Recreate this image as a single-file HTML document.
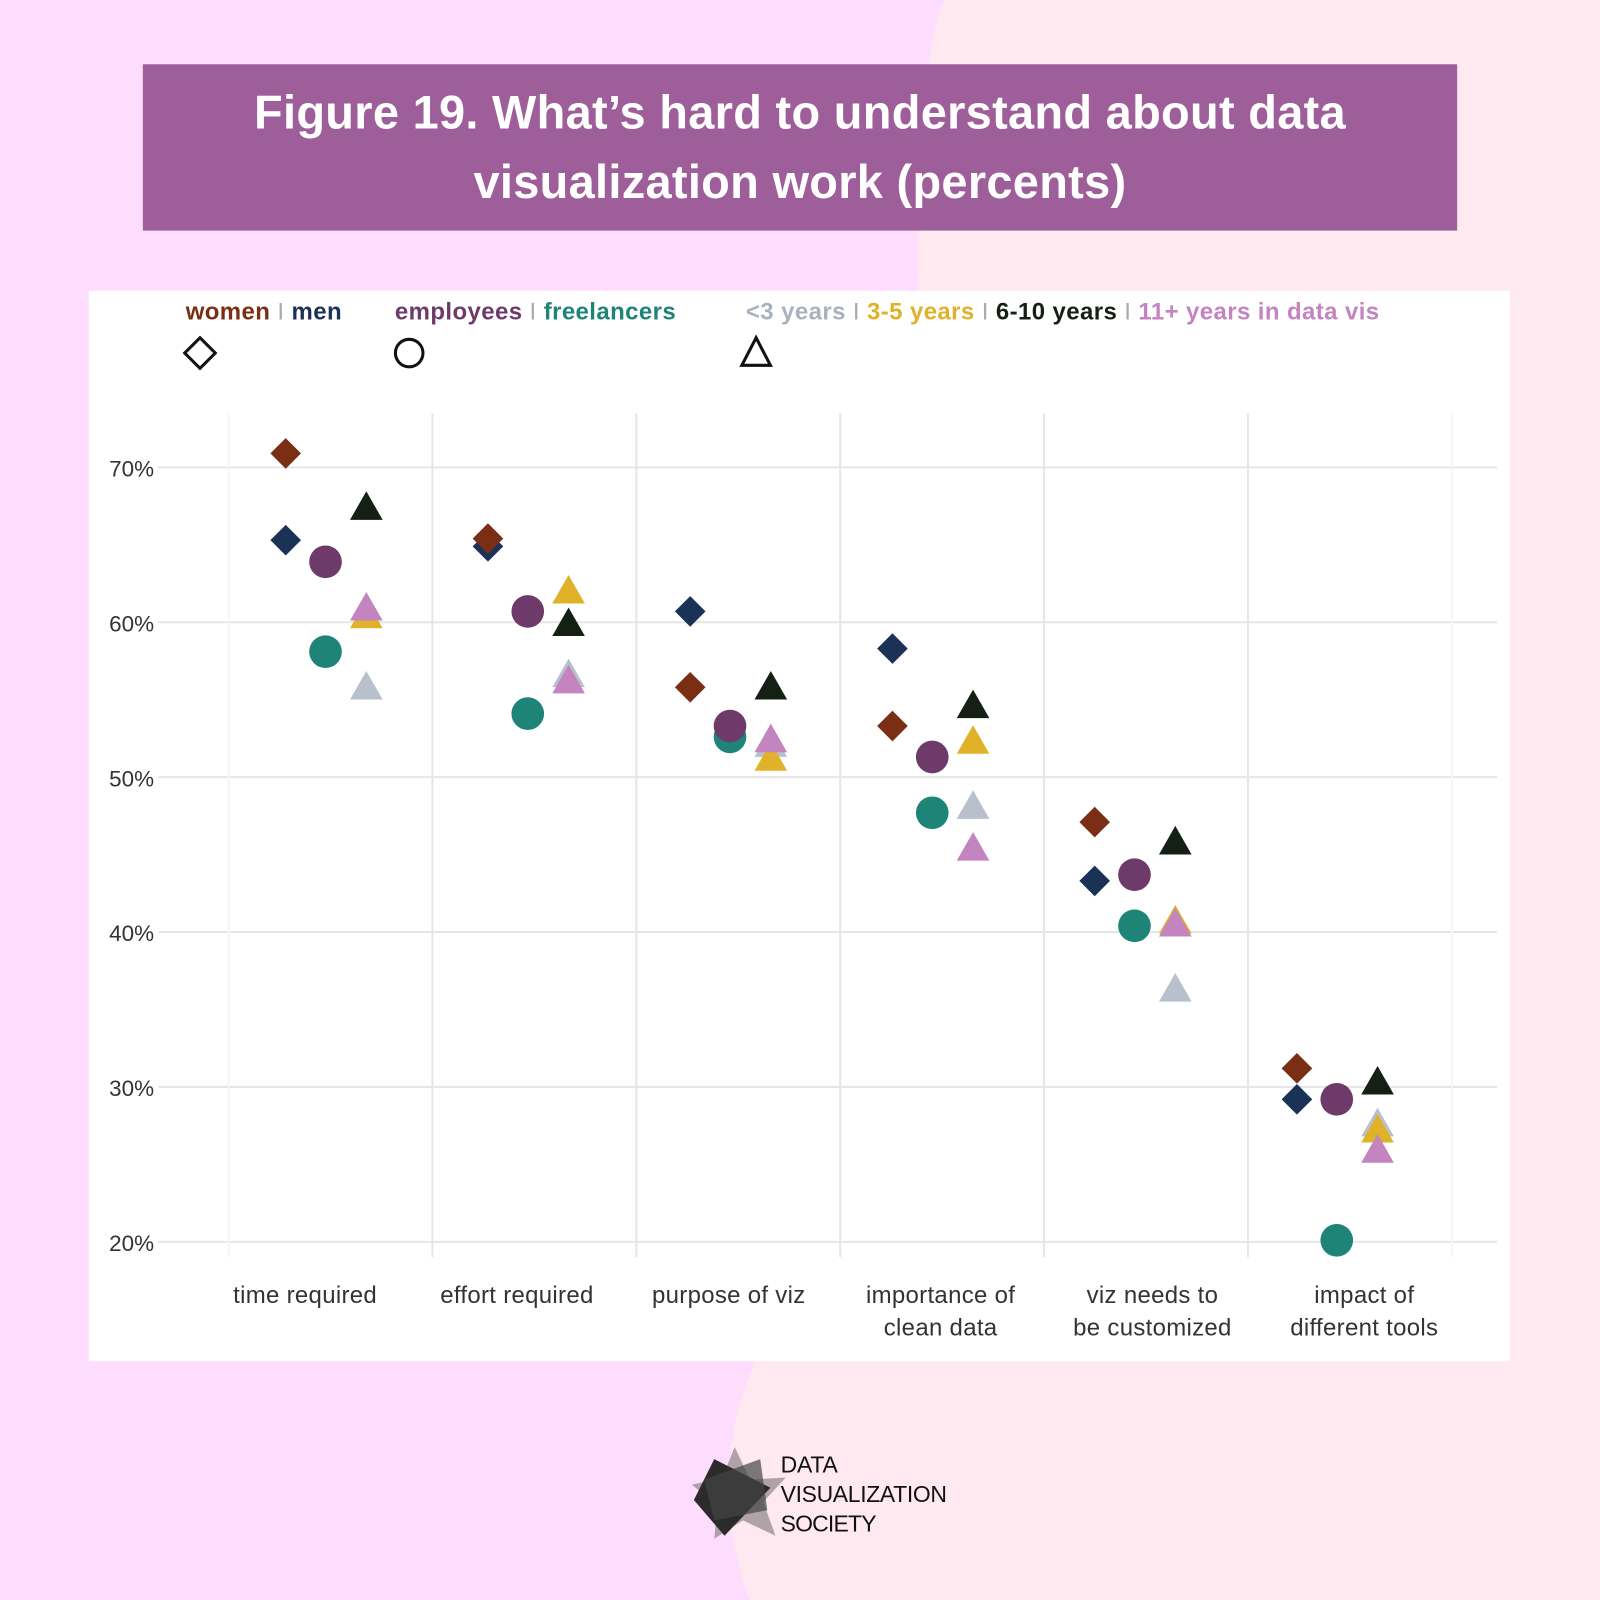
<!DOCTYPE html>
<html><head><meta charset="utf-8"><style>
html,body{margin:0;padding:0;width:1600px;height:1600px;overflow:hidden;}
svg{display:block;font-family:"Liberation Sans",sans-serif;}
</style></head><body>
<svg id="chart" width="1600" height="1600" viewBox="0 0 1568 1568" xmlns="http://www.w3.org/2000/svg">
<rect x="0" y="0" width="1568" height="1568" fill="#fddcfd"/>
<path d="M925 0 Q895 80 900 290 L740 1334 Q690 1450 735 1568 L1568 1568 L1568 0 Z" fill="#fde9ef"/>
<rect x="140" y="63" width="1288" height="163" fill="#9e5e9a"/>
<text x="784" y="126" text-anchor="middle" fill="#fff" font-size="46" font-weight="bold" letter-spacing="0.3">Figure 19. What’s hard to understand about data</text>
<text x="784" y="194" text-anchor="middle" fill="#fff" font-size="46" font-weight="bold" letter-spacing="0.3">visualization work (percents)</text>
<rect x="87" y="285" width="1393" height="1049" fill="#fff"/>
<g font-size="23.5" font-weight="bold" letter-spacing="0.4">
<text x="182" y="313"><tspan fill="#7a2e14">women</tspan><tspan fill="#aaa" font-weight="normal"> I </tspan><tspan fill="#1b3257">men</tspan></text>
<text x="387" y="313"><tspan fill="#6e3a6a">employees</tspan><tspan fill="#aaa" font-weight="normal"> I </tspan><tspan fill="#1f8478">freelancers</tspan></text>
<text x="731" y="313"><tspan fill="#aab2be">&lt;3 years</tspan><tspan fill="#aaa" font-weight="normal"> I </tspan><tspan fill="#e0b22a">3-5 years</tspan><tspan fill="#aaa" font-weight="normal"> I </tspan><tspan fill="#152015">6-10 years</tspan><tspan fill="#aaa" font-weight="normal"> I </tspan><tspan fill="#c384c0">11+ years in data vis</tspan></text>
<path d="M196 331 L211 346 L196 361 L181 346 Z" fill="none" stroke="#111" stroke-width="3"/>
<circle cx="401" cy="346" r="13.5" fill="none" stroke="#111" stroke-width="3"/>
<path d="M741 331 L755 358 L727 358 Z" fill="none" stroke="#111" stroke-width="3"/>
</g>
<g id="grid"></g>
<g id="marks"></g>
<g>
<path d="M720 1418 L735 1450 L770 1448 L748 1472 L760 1505 L728 1490 L700 1508 L703 1475 L678 1455 L708 1448 Z" fill="#9b9197" opacity="0.8"/>
<path d="M700 1430 L755 1458 L710 1505 L680 1470 Z" fill="#2b2b2b"/>
<path d="M690 1450 L745 1430 L752 1480 L700 1490 Z" fill="#444" opacity="0.7"/>
<text x="765" y="1443" font-size="22.5" fill="#111" textLength="56">DATA</text>
<text x="765" y="1472" font-size="22.5" fill="#111" textLength="163">VISUALIZATION</text>
<text x="765" y="1501" font-size="22.5" fill="#111" textLength="94">SOCIETY</text>
</g>
</svg>
<script>
const categories = ["time required","effort required","purpose of viz","importance of|clean data","viz needs to|be customized","impact of|different tools"];
const yTicks = [20,30,40,50,60,70];
const women = [70.9,65.4,55.8,53.3,47.1,31.2];
const men = [65.3,64.9,60.7,58.3,43.3,29.2];
const employees = [63.9,60.7,53.3,51.3,43.7,29.2];
const freelancers = [58.1,54.1,52.6,47.7,40.4,20.1];
const yrsLt3 = [55.8,56.6,52.1,48.1,36.3,27.6];
const yrs3to5 = [60.4,62.0,51.2,52.3,40.7,27.2];
const yrs6to10 = [67.4,59.9,55.8,54.6,45.8,30.3];
const yrs11plus = [60.9,56.2,52.4,45.4,40.5,25.9];

const NS = "http://www.w3.org/2000/svg";
const y = v => 458 + (70 - v) * 15.18;
const xCat = i => 280 + i * 198.2;
const xLabel = i => 299 + i * 207.6;
const grid = document.getElementById('grid');
const marks = document.getElementById('marks');
function mk(tag, attrs, parent){const e=document.createElementNS(NS,tag);for(const k in attrs)e.setAttribute(k,attrs[k]);parent.appendChild(e);return e;}

yTicks.forEach(t=>{
  const l=mk('line',{x1:155,x2:1467,y1:y(t),y2:y(t),stroke:'#e6e6e6','stroke-width':2},grid);
  
  
  const tx=mk('text',{x:107,y:y(t)+9,'font-size':22,fill:'#333'},grid);
  tx.textContent=t+'%';
  
  
});
for(let i=0;i<=categories.length;i++){
  const gx=224+i*199.8;
  const l=mk('line',{x1:gx,x2:gx,y1:405,y2:1232,stroke:i==0||i==categories.length?'#f4f4f4':'#e6e6e6','stroke-width':2},grid);
  
  
}
categories.forEach((c,i)=>{
  c.split('|').forEach((line,j)=>{
    const tx=mk('text',{x:xLabel(i),y:1277+j*32,'font-size':23.5,fill:'#333','text-anchor':'middle','letter-spacing':0.3},grid);
    tx.textContent=line;
    
    
  });
});
function diamond(arr,color,name){arr.forEach((v,i)=>{const cx=xCat(i),cy=y(v),r=15;
  const p=mk('path',{d:`M${cx} ${cy-r} L${cx+r} ${cy} L${cx} ${cy+r} L${cx-r} ${cy} Z`,fill:color},marks);
  
  });}
function circ(arr,color,name){arr.forEach((v,i)=>{
  const p=mk('circle',{cx:xCat(i)+39,cy:y(v),r:16,fill:color},marks);
  
  });}
function tri(arr,color,name){arr.forEach((v,i)=>{const cx=xCat(i)+79,cy=y(v);
  const p=mk('path',{d:`M${cx} ${cy-16} L${cx+16} ${cy+12} L${cx-16} ${cy+12} Z`,fill:color},marks);
  
  });}
diamond(men,'#1b3257','point-men');
diamond(women,'#7a2e14','point-women');
circ(freelancers,'#1f8478','point-freelancers');
circ(employees,'#6e3a6a','point-employees');
tri(yrsLt3,'#b8c0cc','point-lt3-years');
tri(yrs3to5,'#e0b22a','point-3-5-years');
tri(yrs6to10,'#152015','point-6-10-years');
tri(yrs11plus,'#c384c0','point-11plus-years');
</script>
</body></html>
